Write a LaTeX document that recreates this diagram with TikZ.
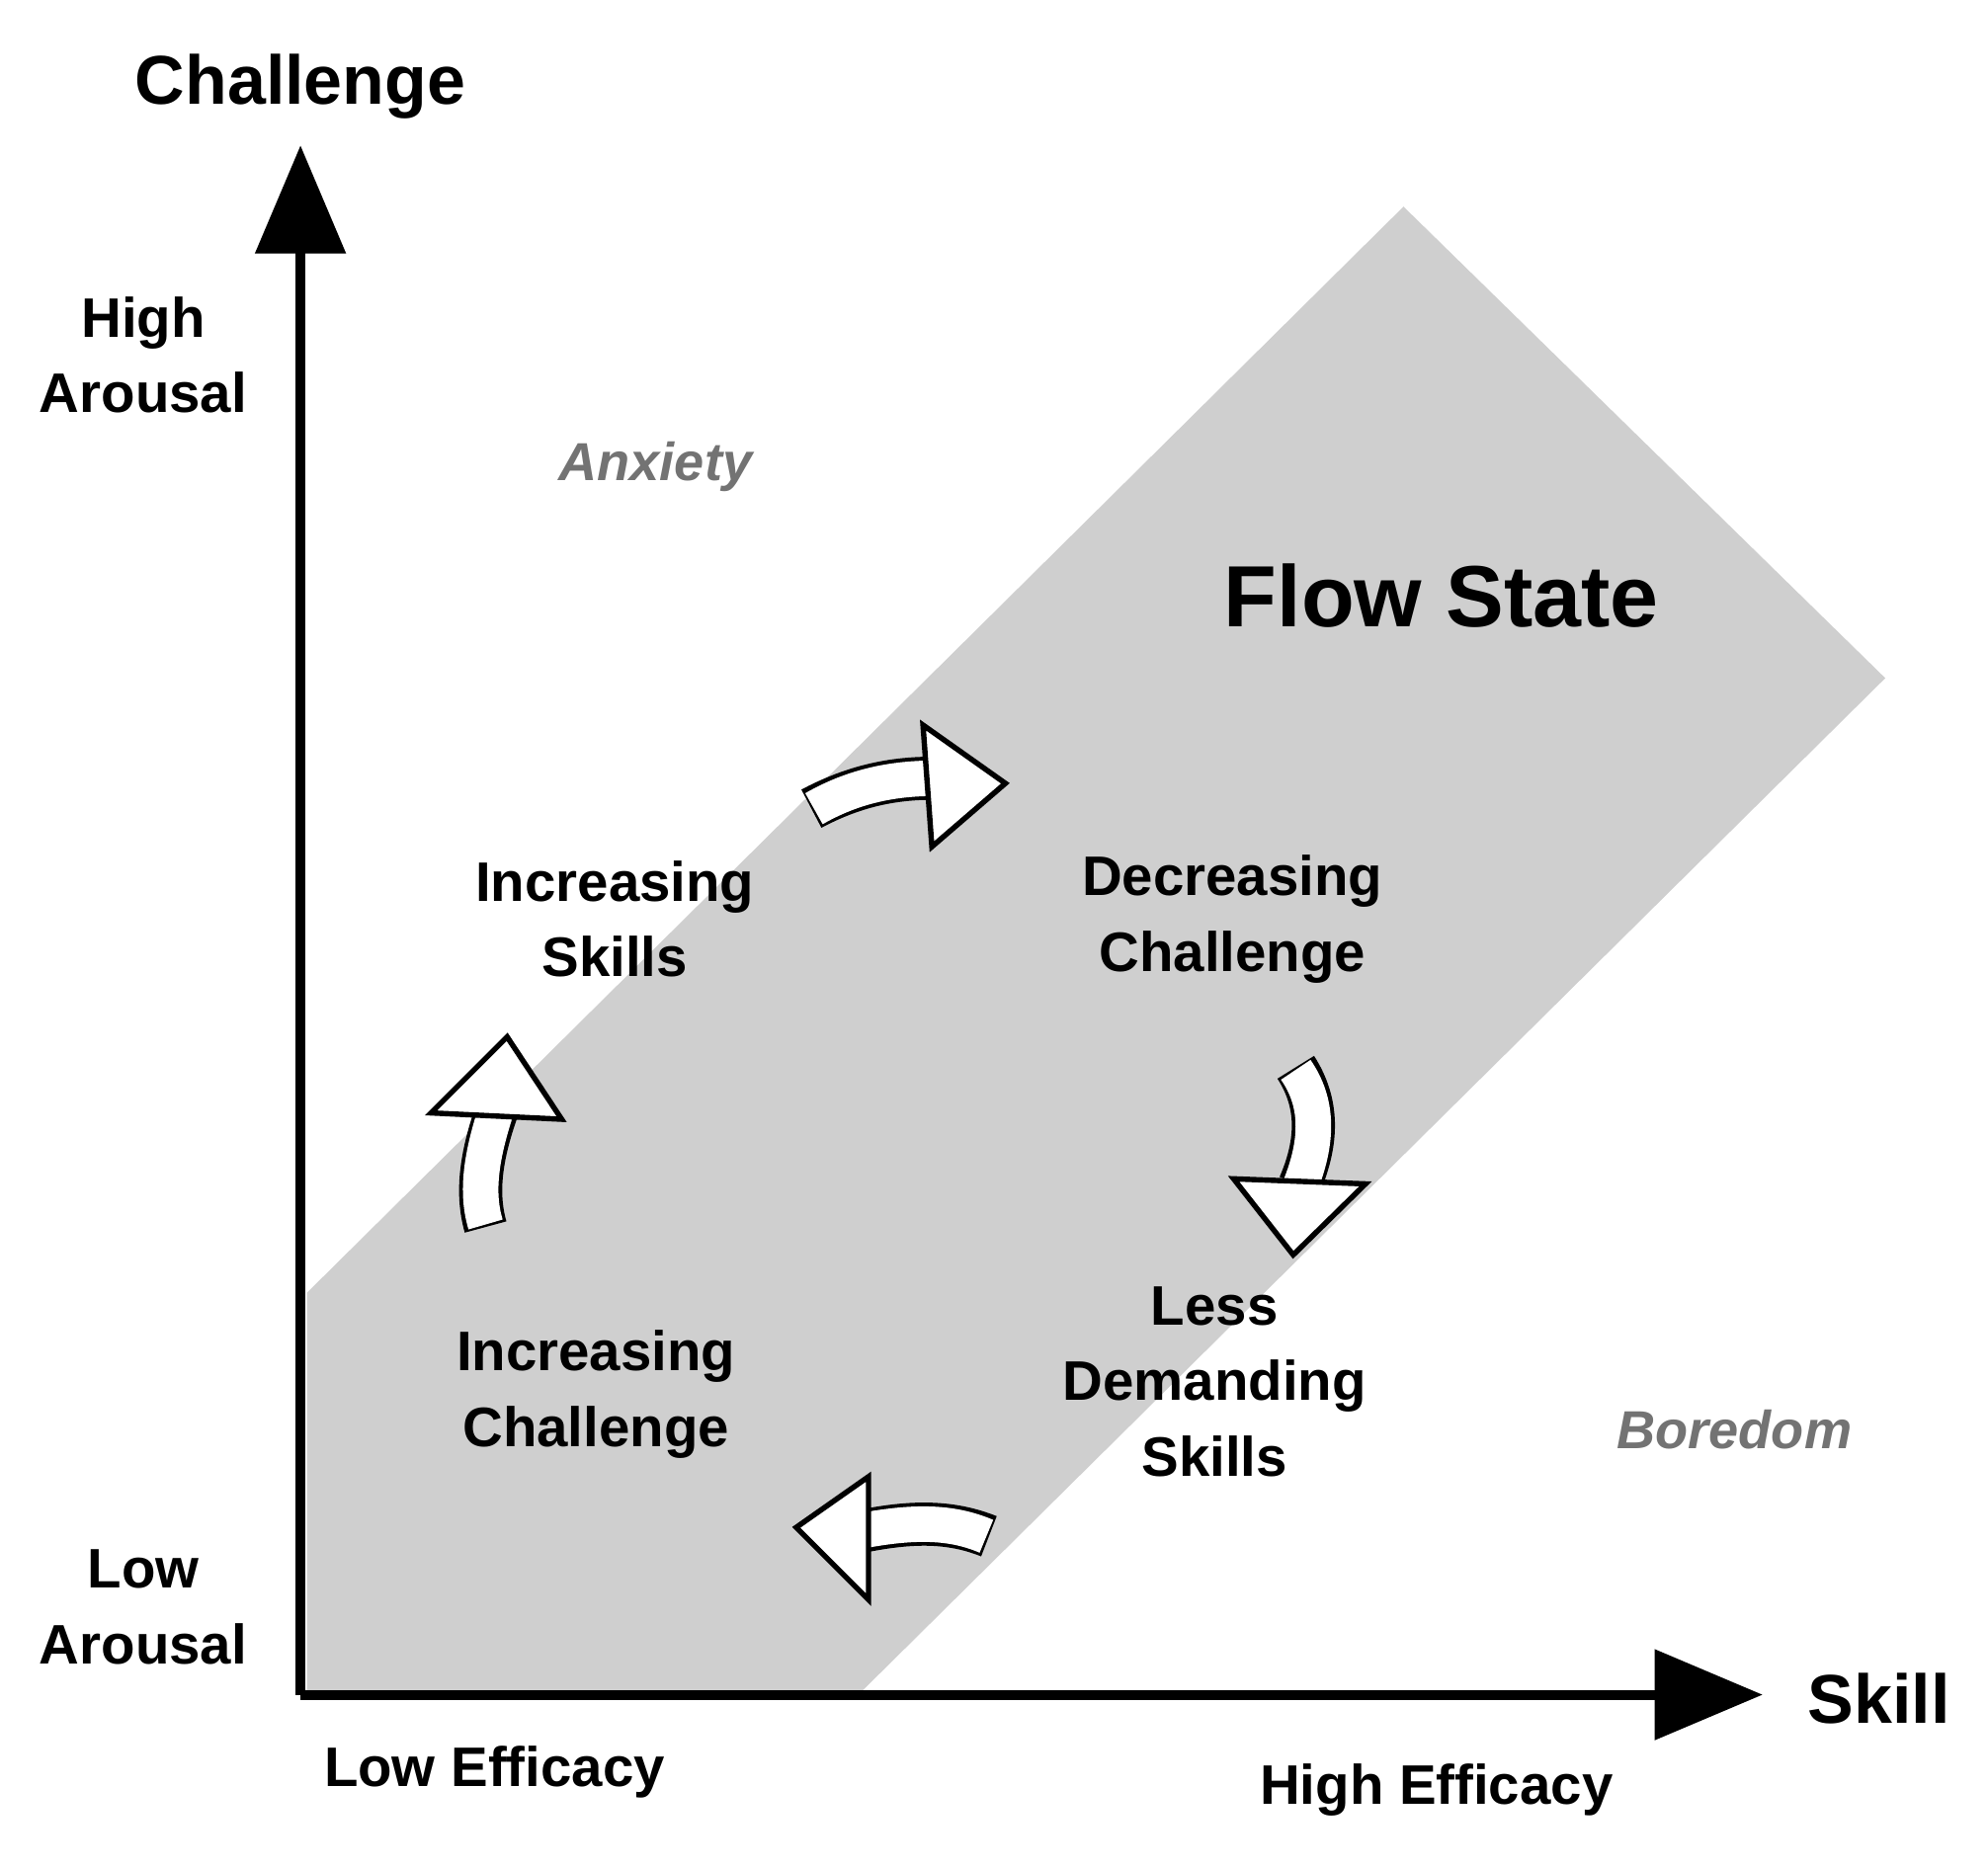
\documentclass[tikz,border=0pt]{standalone}
\usepackage{fontspec}
\setmainfont{Liberation Sans}
\begin{document}
\begin{tikzpicture}[x=0.01cm,y=-0.01cm,
  lbl/.style={font=\bfseries\fontsize{12.5pt}{17pt}\selectfont,align=center},
  mood/.style={font=\bfseries\itshape\fontsize{12pt}{14pt}\selectfont,text=black!55},
  axt/.style={font=\bfseries\fontsize{15.5pt}{18pt}\selectfont},
  shaftb/.style={line width=34*0.2845pt,black},
  shaftw/.style={line width=28*0.2845pt,white},
  head/.style={fill=white,draw=black,line width=1.2pt,line join=miter}]
\useasboundingbox (0,0) rectangle (1568,1473);
\fill[black!19] (242,1020) -- (1107,163) -- (1487,535) -- (677,1337) -- (242,1337) -- cycle;
% axes
\coordinate (o) at (237,1337);
\coordinate (ytip) at (237,115);
\coordinate (xtip) at (1390,1337);
\draw[line width=2.2pt] (o) -- (237,195);
\draw[line width=2.2pt] (o) -- (1310,1337);
\fill (ytip) -- (273,200) -- (201,200) -- cycle;
\fill (xtip) -- (1305,1301) -- (1305,1373) -- cycle;
% texts
\node[axt] (ch) at (237,68) {Challenge};
\node[axt] (sk) at (1482,1340) {Skill};
\node[lbl] (ha) at (113,280) {High\\Arousal};
\node[lbl] (la) at (113,1268) {Low\\Arousal};
\node[lbl] (le) at (390,1398) {Low Efficacy};
\node[lbl] (he) at (1133,1412) {High Efficacy};
\node[mood] (an) at (517,368) {Anxiety};
\node[mood] (bo) at (1368,1128) {Boredom};
\node[font=\bfseries\fontsize{19.5pt}{22pt}\selectfont] (fs) at (1137,470) {Flow State};
\node[lbl] (is) at (485,725) {Increasing\\Skills};
\node[lbl] (dc) at (972,725) {Decreasing\\Challenge};
\node[lbl] (ld) at (958,1090) {Less\\Demanding\\Skills};
\node[lbl] (ic) at (470,1100) {Increasing\\Challenge};
% arrow 1
\draw[shaftb] (640,638) .. controls (670,622) and (700,614) .. (735,614);
\draw[shaftw] (642,638) .. controls (670,622) and (700,614) .. (737,614);
\draw[head] (728,572) -- (793,618) -- (735,668) -- cycle;
% arrow 2
\draw[shaftb] (1022,842) .. controls (1040,870) and (1040,900) .. (1025,935);
\draw[shaftw] (1022,844) .. controls (1040,870) and (1040,900) .. (1025,937);
\draw[head] (973,930) -- (1077,934) -- (1020,990) -- cycle;
% arrow 3
\draw[shaftb] (780,1212) .. controls (750,1200) and (720,1200) .. (680,1208);
\draw[shaftw] (778,1212) .. controls (750,1200) and (720,1200) .. (678,1208);
\draw[head] (685,1165) -- (628,1205) -- (685,1262) -- cycle;
% arrow 4
\draw[shaftb] (383,968) .. controls (375,940) and (380,910) .. (392,876);
\draw[shaftw] (383,966) .. controls (375,940) and (380,910) .. (392,874);
\draw[head] (340,878) -- (400,818) -- (443,883) -- cycle;
\end{tikzpicture}
\end{document}
